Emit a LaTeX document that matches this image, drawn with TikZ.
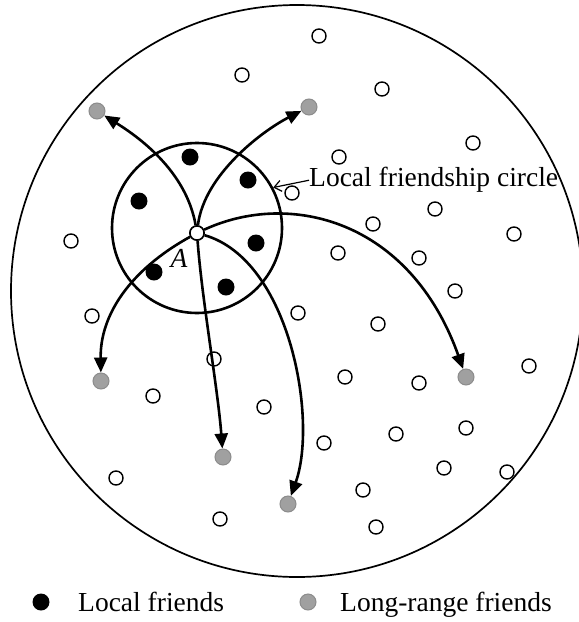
\documentclass[tikz,border=0pt]{standalone}
\usepackage{fontspec}
\setmainfont{Liberation Serif}
\usetikzlibrary{arrows.meta}
\definecolor{farfill}{HTML}{A0A0A0}
\definecolor{farline}{HTML}{8C8C8C}
\begin{document}
\begin{tikzpicture}[x=1pt,y=-1pt,
  other/.style={circle,draw,fill=white,line width=1.4pt,minimum size=14pt,inner sep=0pt},
  localf/.style={circle,fill=black,minimum size=17pt,inner sep=0pt},
  far/.style={circle,fill=farfill,draw=farline,line width=1pt,minimum size=16pt,inner sep=0pt},
  link/.style={line width=2.6pt,-{Triangle[length=15pt,width=13pt]}},
  lbl/.style={font=\fontsize{27.5}{30}\selectfont,inner sep=0pt}]
\useasboundingbox (0,0) rectangle (579,622);
% big circle
\draw[line width=1.7pt] (297,291) circle (286pt);
% local friendship circle
\node[circle,draw,line width=2.6pt,minimum size=170pt,inner sep=0pt] (lc) at (197,228) {};
% other users
\foreach \p [count=\i] in {(319,36),(242,75),(382,89),(473,143),(339,157),(292,193),(435,209),(373,224),(514,234),(71,241),(338,253),(419,258),(455,291),(92,316),(298,313),(378,324),(214,359),(345,377),(419,383),(529,366),(153,396),(264,407),(324,443),(396,434),(466,428),(116,478),(444,468),(507,472),(363,490),(220,519),(376,527)}
  \node[other] (o\i) at \p {};
% local friends
\node[localf] (l1) at (190,157) {};
\node[localf] (l2) at (139,201) {};
\node[localf] (l3) at (248,180) {};
\node[localf] (l4) at (256,243) {};
\node[localf] (l5) at (154,272) {};
\node[localf] (l6) at (226,287) {};
% long-range friends
\node[far] (g1) at (97,111) {};
\node[far] (g2) at (309,107) {};
\node[far] (g3) at (466,377) {};
\node[far] (g4) at (101,381) {};
\node[far] (g5) at (223,457) {};
\node[far] (g6) at (288,504) {};
% node A
\node[circle,draw,fill=white,line width=1.8pt,minimum size=14pt,inner sep=0pt] (a) at (197,233) {};
\node[lbl,font=\fontsize{27.5}{30}\selectfont\itshape] (alabel) at (179,258) {A};
% long-range links
\draw[link] (a) .. controls (186,170) and (137,136) .. (g1);
\draw[link] (a) .. controls (204,175) and (262,131) .. (g2);
\draw[link] (a) .. controls (290,190) and (410,220) .. (g3);
\draw[link] (a) .. controls (130,270) and (100,315) .. (g4);
\draw[link] (a) .. controls (202,300) and (218,390) .. (g5);
\draw[link] (a) .. controls (290,260) and (318,420) .. (g6);
\node[other] at (a) {};
% label
\node[lbl,anchor=base west] (lctext) at (309,186) {Local friendship circle};
\draw[line width=1.2pt,-{Straight Barb[length=7pt,width=11pt]}] (lctext.west) ++(0pt,-1pt) coordinate (lcw) (lcw) -- (lc.28);
% legend
\node[localf] (kl) at (41,602) {};
\node[lbl,anchor=base west] (kltext) at (78,611) {Local friends};
\node[far] (kf) at (308,602) {};
\node[lbl,anchor=base west] (kftext) at (340,611) {Long-range friends};
\end{tikzpicture}
\end{document}
